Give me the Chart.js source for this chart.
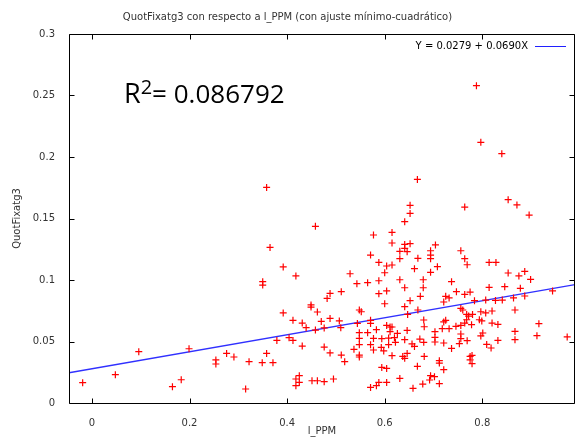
<!DOCTYPE html>
<html>
<head>
<meta charset="utf-8">
<script src="https://cdn.jsdelivr.net/npm/chart.js@4.4.1/dist/chart.umd.min.js"></script>
<style>
  body { margin: 0; background: #fff; overflow: hidden; }
  #wrap { width: 575px; height: 437px; position: relative; }
</style>
</head>
<body>
<div id="wrap"><canvas id="myChart"></canvas></div>
<script>
"use strict";
// Datos: l_PPM (x) y QuotFixatg3 (y)
const ppm = [
  -0.019, 0.048, 0.096, 0.165, 0.183, 0.199, 0.254, 0.254, 0.276, 0.291,
  0.315, 0.322, 0.349, 0.358, 0.350, 0.350, 0.358, 0.365, 0.371, 0.379,
  0.392, 0.392, 0.404, 0.412, 0.412, 0.418, 0.418, 0.418, 0.425, 0.425,
  0.431, 0.431, 0.439, 0.449, 0.449, 0.451, 0.458, 0.458, 0.462, 0.462,
  0.511, 0.488, 0.482, 0.470, 0.488, 0.507, 0.510, 0.476, 0.476, 0.488,
  0.511, 0.518, 0.476, 0.495,
  0.667, 0.652, 0.652, 0.641, 0.577, 0.615, 0.615, 0.641, 0.652, 0.641,
  0.631, 0.646, 0.571, 0.631, 0.668, 0.588, 0.604, 0.615, 0.661, 0.529,
  0.600, 0.588, 0.631, 0.679, 0.543, 0.565, 0.679, 0.641, 0.588, 0.604,
  0.673, 0.652, 0.600, 0.641, 0.548, 0.552, 0.668, 0.647, 0.680, 0.544,
  0.571, 0.571, 0.604, 0.611, 0.615, 0.681, 0.583, 0.611, 0.548, 0.565,
  0.626, 0.646, 0.548, 0.577, 0.594, 0.608, 0.620, 0.641, 0.672, 0.537,
  0.548, 0.571, 0.593, 0.608, 0.622, 0.656, 0.661, 0.680, 0.577, 0.598,
  0.548, 0.548, 0.615, 0.637, 0.641, 0.646, 0.681, 0.594, 0.604, 0.667,
  0.631, 0.588, 0.604, 0.571, 0.583, 0.658, 0.678,
  0.764, 0.704, 0.694, 0.694, 0.694, 0.756, 0.764, 0.769, 0.708, 0.814,
  0.828, 0.694, 0.737, 0.814, 0.747, 0.725, 0.732, 0.764, 0.775, 0.721,
  0.784, 0.807, 0.827, 0.756, 0.760, 0.768, 0.772, 0.780, 0.797, 0.807,
  0.820, 0.721, 0.725, 0.768, 0.794, 0.799, 0.820, 0.832, 0.718, 0.732,
  0.746, 0.756, 0.764, 0.778, 0.703, 0.756, 0.756, 0.801, 0.797, 0.703,
  0.703, 0.721, 0.737, 0.753, 0.769, 0.809, 0.818, 0.832, 0.712, 0.712,
  0.775, 0.779, 0.775, 0.779, 0.721, 0.694, 0.702, 0.692, 0.712,
  0.788, 0.797, 0.840, 0.853, 0.871, 0.896, 0.853, 0.875, 0.887, 0.899,
  0.846, 0.878, 0.944, 0.841, 0.864, 0.887, 0.867, 0.916, 0.867, 0.867,
  0.912, 0.974
];
const quot = [
  0.0165, 0.0230, 0.0417, 0.0133, 0.0189, 0.0441, 0.0350, 0.0317, 0.0403, 0.0374,
  0.0114, 0.0336, 0.0328, 0.1753, 0.0986, 0.0959, 0.0403, 0.1265, 0.0328, 0.0509,
  0.1106, 0.0732, 0.0531, 0.0672, 0.0509, 0.1033, 0.0195, 0.0141, 0.0222, 0.0167,
  0.0650, 0.0463, 0.0612, 0.0797, 0.0780, 0.0181, 0.1436, 0.0593, 0.0181, 0.0740,
  0.0905, 0.0891, 0.0850, 0.0663, 0.0688, 0.0667, 0.0612, 0.0610, 0.0455, 0.0407,
  0.0390, 0.0336, 0.0173, 0.0195,
  0.1818, 0.1607, 0.1541, 0.1474, 0.1366, 0.1387, 0.1301, 0.1289, 0.1295, 0.1257,
  0.1233, 0.1230, 0.1203, 0.1173, 0.1176, 0.1143, 0.1114, 0.1122, 0.1092, 0.1051,
  0.1059, 0.0994, 0.1002, 0.1002, 0.0970, 0.0978, 0.0937, 0.0937, 0.0889, 0.0911,
  0.0867, 0.0832, 0.0807, 0.0783, 0.0756, 0.0742, 0.0756, 0.0720, 0.0675, 0.0647,
  0.0672, 0.0647, 0.0631, 0.0618, 0.0618, 0.0620, 0.0596, 0.0580, 0.0572, 0.0572,
  0.0566, 0.0590, 0.0525, 0.0525, 0.0523, 0.0528, 0.0531, 0.0515, 0.0520, 0.0436,
  0.0474, 0.0474, 0.0452, 0.0474, 0.0493, 0.0480, 0.0460, 0.0493, 0.0431, 0.0423,
  0.0390, 0.0374, 0.0385, 0.0379, 0.0363, 0.0403, 0.0379, 0.0289, 0.0281, 0.0298,
  0.0200, 0.0167, 0.0167, 0.0127, 0.0141, 0.0119, 0.0154,
  0.1593, 0.1285, 0.1238, 0.1203, 0.1173, 0.1238, 0.1173, 0.1124, 0.1108, 0.1143,
  0.1143, 0.1062, 0.0986, 0.0940, 0.0905, 0.0867, 0.0854, 0.0883, 0.0902, 0.0821,
  0.0832, 0.0837, 0.0834, 0.0769, 0.0756, 0.0720, 0.0707, 0.0720, 0.0742, 0.0732,
  0.0748, 0.0659, 0.0672, 0.0677, 0.0677, 0.0667, 0.0650, 0.0639, 0.0604, 0.0604,
  0.0623, 0.0631, 0.0650, 0.0637, 0.0580, 0.0561, 0.0523, 0.0569, 0.0545, 0.0533,
  0.0496, 0.0488, 0.0444, 0.0482, 0.0507, 0.0476, 0.0447, 0.0509, 0.0344, 0.0325,
  0.0379, 0.0387, 0.0350, 0.0320, 0.0271, 0.0222, 0.0214, 0.0187, 0.0157,
  0.2580, 0.2119, 0.2027, 0.1653, 0.1610, 0.1528, 0.1057, 0.1033, 0.1070, 0.1005,
  0.0946, 0.0932, 0.0911, 0.0837, 0.0854, 0.0870, 0.0756, 0.0645, 0.0582, 0.0515,
  0.0547, 0.0537
];

// Recta de ajuste (extremos)
const fitX = [-0.047, 0.99];
const fitY = [0.0246, 0.0962];

const xTicks = [0, 0.2, 0.4, 0.6, 0.8];
const yTicks = [0, 0.05, 0.1, 0.15, 0.2, 0.25, 0.3];

const titleText = 'QuotFixatg3 con respecto a l_PPM (con ajuste mínimo-cuadrático)';
const legendText = 'Y = 0.0279 + 0.0690X';
const r2Value = '0.086792';
const xLabel = 'l_PPM';
const yLabel = 'QuotFixatg3';

const scatterData = ppm.map((x, i) => ({x: x, y: quot[i]}));
const fitData = fitX.map((x, i) => ({x: x, y: fitY[i]}));

const tickFont = {family: 'DejaVu Sans', size: 10};
const fmt = v => String(+Number(v).toFixed(2));

// marco estilo gnuplot, leyenda y texto R2
const extras = {
  id: 'extras',
  afterDatasetsDraw(chart) {
    const ctx = chart.ctx;
    const a = chart.chartArea;
    const xs = chart.scales.x, ys = chart.scales.y;
    const L = Math.round(a.left) + 0.5, R = Math.round(a.right) - 0.5;
    const T = Math.round(a.top) + 0.5, B = Math.round(a.bottom) + 0.5;
    ctx.save();
    ctx.strokeStyle = '#000';
    ctx.lineWidth = 1;
    ctx.beginPath();
    ctx.moveTo(L, T); ctx.lineTo(R, T); ctx.lineTo(R, B); ctx.lineTo(L, B); ctx.closePath();
    xTicks.forEach(v => {
      const px = Math.round(xs.getPixelForValue(v)) + 0.5;
      ctx.moveTo(px, B); ctx.lineTo(px, B - 5);
      ctx.moveTo(px, T); ctx.lineTo(px, T + 5);
    });
    yTicks.forEach(v => {
      const py = Math.round(ys.getPixelForValue(v)) + 0.5;
      ctx.moveTo(L, py); ctx.lineTo(L + 5, py);
      ctx.moveTo(R, py); ctx.lineTo(R - 5, py);
    });
    ctx.stroke();

    // leyenda
    ctx.font = '10px "DejaVu Sans"';
    ctx.fillStyle = '#000';
    ctx.textAlign = 'right';
    ctx.textBaseline = 'middle';
    ctx.fillText(legendText, 528, 46);
    ctx.strokeStyle = '#2020ff';
    ctx.beginPath();
    ctx.moveTo(535, 46.5); ctx.lineTo(566, 46.5);
    ctx.stroke();

    // R2
    ctx.textAlign = 'left';
    ctx.textBaseline = 'alphabetic';
    ctx.fillStyle = '#000';
    let x0 = 124;
    const base = 103;
    ctx.font = '27px "Open Sans"';
    ctx.fillText('R', x0, base);
    x0 += ctx.measureText('R').width;
    ctx.font = '20px "Open Sans"';
    ctx.fillText('2', x0, base - 9);
    x0 += ctx.measureText('2').width;
    ctx.font = '26px "Open Sans"';
    ctx.fillText('= ' + r2Value, x0, base);
    ctx.restore();
  }
};

const myChart = new Chart(document.getElementById('myChart'), {
  type: 'scatter',
  data: {
    datasets: [
      {
        label: 'QuotFixatg3',
        data: scatterData,
        pointStyle: 'cross',
        pointRadius: 3.5,
        pointBorderWidth: 1.2,
        borderColor: '#ff0000',
        backgroundColor: '#ff0000'
      },
      {
        label: legendText,
        type: 'line',
        data: fitData,
        borderColor: '#3030ff',
        borderWidth: 1.3,
        pointRadius: 0,
        fill: false
      }
    ]
  },
  options: {
    responsive: true,
    maintainAspectRatio: false,
    animation: false,
    layout: {padding: 0, autoPadding: false},
    plugins: {
      legend: {display: false},
      tooltip: {enabled: false},
      title: {
        display: true,
        text: titleText,
        color: '#333',
        font: {family: 'DejaVu Sans', size: 10, weight: 'normal'},
        padding: {top: 11, bottom: 11}
      }
    },
    scales: {
      x: {
        type: 'linear',
        min: -0.047,
        max: 0.99,
        grid: {display: false},
        border: {display: false},
        afterBuildTicks: s => { s.ticks = xTicks.map(v => ({value: v})); },
        afterFit: s => { s.height = 34; s.paddingRight = 0; s.paddingLeft = 0; },
        ticks: {color: '#333', font: tickFont, padding: 6, maxRotation: 0, callback: fmt},
        title: {display: true, text: xLabel, color: '#333', font: tickFont, padding: 0}
      },
      y: {
        type: 'linear',
        min: 0,
        max: 0.3,
        grid: {display: false},
        border: {display: false},
        afterBuildTicks: s => { s.ticks = yTicks.map(v => ({value: v})); },
        afterFit: s => { s.width = 69; s.paddingTop = 0; s.paddingBottom = 0; },
        ticks: {color: '#333', font: tickFont, padding: 6, callback: fmt},
        title: {display: true, text: yLabel, color: '#333', font: tickFont, padding: {top: 11, bottom: 0}}
      }
    }
  },
  plugins: [extras]
});
</script>
</body>
</html>
